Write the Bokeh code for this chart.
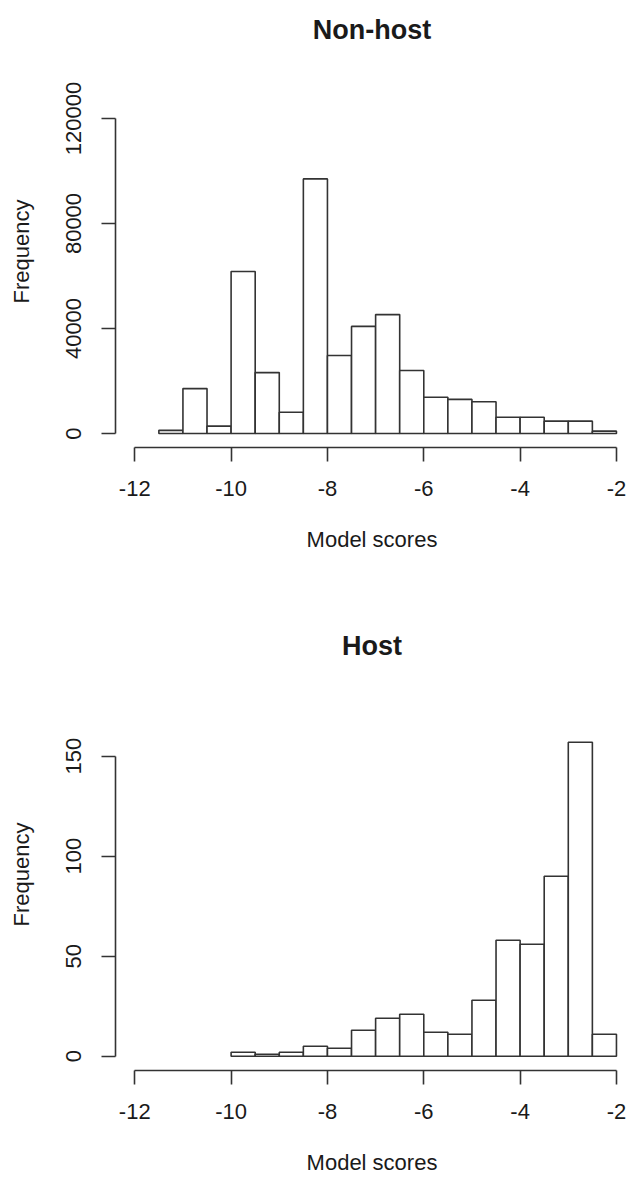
from bokeh.plotting import figure
from bokeh.layouts import column
from bokeh.models import FixedTicker, NumeralTickFormatter, Range1d, ColumnDataSource
from bokeh.embed import file_html
from bokeh.resources import INLINE

# ---- data ----
bin_width = 0.5
nonhost_bin_left = [-11.5, -11.0, -10.5, -10.0, -9.5, -9.0, -8.5, -8.0, -7.5, -7.0,
                    -6.5, -6.0, -5.5, -5.0, -4.5, -4.0, -3.5, -3.0, -2.5]
nonhost_counts = [1200, 17100, 2800, 61700, 23200, 8100, 97000, 29700, 40800, 45300,
                  24000, 13800, 13000, 12100, 6200, 6200, 4700, 4700, 900]

host_bin_left = [-10.0, -9.5, -9.0, -8.5, -8.0, -7.5, -7.0, -6.5, -6.0, -5.5,
                 -5.0, -4.5, -4.0, -3.5, -3.0, -2.5]
host_counts = [2, 1, 2, 5, 4, 13, 19, 21, 12, 11, 28, 58, 56, 90, 157, 11]

x_ticks = [-12, -10, -8, -6, -4, -2]
nonhost_y_ticks = [0, 40000, 80000, 120000]
host_y_ticks = [0, 50, 100, 150]

FONT = "Liberation Sans"
INK = "#333333"
TXT = "#1a1a1a"


def make_hist(title, lefts, counts, yticks, yrange, height, top_border, bottom_border,
              title_standoff):
    p = figure(width=628, height=height, output_backend="svg", toolbar_location=None,
               x_range=Range1d(-12.4, -1.75), y_range=Range1d(*yrange),
               min_border_left=115, min_border_right=0,
               min_border_top=top_border, min_border_bottom=bottom_border,
               title=title)
    p.outline_line_color = None
    p.grid.visible = False
    p.background_fill_color = "white"
    p.border_fill_color = "white"

    src = ColumnDataSource(dict(left=lefts,
                                right=[l + bin_width for l in lefts],
                                top=counts,
                                bottom=[0] * len(counts)))
    p.quad(left="left", right="right", top="top", bottom="bottom", source=src,
           fill_color="white", line_color=INK, line_width=1.6)

    p.title.text_font = FONT
    p.title.text_font_size = "27px"
    p.title.text_font_style = "bold"
    p.title.text_color = TXT
    p.title.align = "center"
    p.title.standoff = title_standoff

    xa = p.xaxis[0]
    xa.ticker = FixedTicker(ticks=x_ticks)
    xa.formatter = NumeralTickFormatter(format="0")
    xa.bounds = (-12, -2)
    xa.axis_label = "Model scores"
    ya = p.yaxis[0]
    ya.ticker = FixedTicker(ticks=yticks)
    ya.formatter = NumeralTickFormatter(format="0")
    ya.bounds = (yticks[0], yticks[-1])
    ya.axis_label = "Frequency"
    ya.major_label_orientation = "vertical"

    for ax in (xa, ya):
        ax.axis_line_color = INK
        ax.axis_line_width = 1.6
        ax.major_tick_line_color = INK
        ax.major_tick_line_width = 1.6
        ax.major_tick_out = 14
        ax.major_tick_in = 0
        ax.minor_tick_line_color = None
        ax.major_label_text_font = FONT
        ax.major_label_text_font_size = "22px"
        ax.major_label_text_color = TXT
        ax.axis_label_text_font = FONT
        ax.axis_label_text_font_size = "22px"
        ax.axis_label_text_font_style = "normal"
        ax.axis_label_text_color = TXT
    xa.major_label_standoff = 19
    xa.axis_label_standoff = 28
    ya.major_label_standoff = 20
    ya.axis_label_standoff = 30
    return p


p1 = make_hist("Non-host", nonhost_bin_left, nonhost_counts, nonhost_y_ticks,
               (-5333, 144000), 561, 55, 114, 22)
p2 = make_hist("Host", host_bin_left, host_counts, host_y_ticks,
               (-7.15, 188.85), 623, 117, 114, 35)

layout = column(p1, p2, spacing=0)
open("out.html", "w").write(file_html(layout, INLINE))
